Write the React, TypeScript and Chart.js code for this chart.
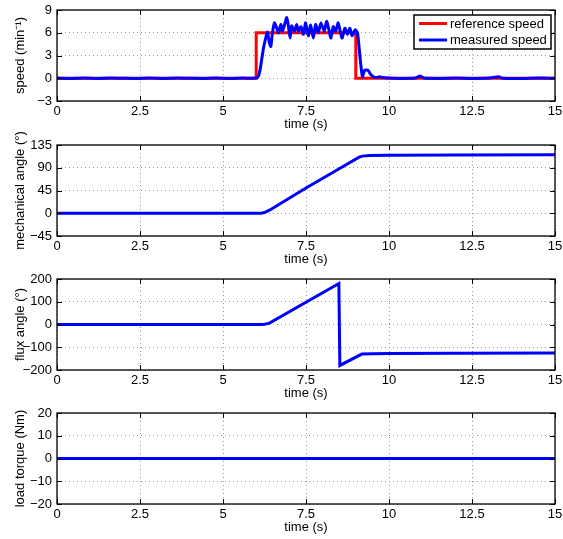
import React, { useEffect, useRef } from 'react';
import { Chart, registerables } from 'chart.js';

Chart.register(...registerables);

// ---- data ----
const timeMin = 0;
const timeMax = 15;
const timeStep = 2.5;

const refSpeedT = [0, 6, 6, 9, 9, 15];
const refSpeedV = [0, 0, 6, 6, 0, 0];

const measSpeedT = [
  0, 0.4, 0.8, 1.2, 1.6, 2.0, 2.4, 2.8, 3.2, 3.6, 4.0, 4.4, 4.8, 5.2, 5.6, 6.0,
  6.07, 6.12, 6.17, 6.22, 6.27, 6.34, 6.39, 6.44, 6.49, 6.55, 6.62, 6.67, 6.74, 6.79,
  6.87, 6.92, 6.97, 7.02, 7.07, 7.15, 7.22, 7.27, 7.35, 7.42, 7.49, 7.57, 7.64, 7.72,
  7.79, 7.87, 7.95, 8.05, 8.12, 8.19, 8.25, 8.32, 8.39, 8.47, 8.54, 8.59, 8.67, 8.75,
  8.82, 8.89, 8.98, 9.05, 9.1, 9.15, 9.2, 9.26, 9.33, 9.38, 9.43, 9.53, 9.62, 9.72,
  9.8, 10.0, 10.4, 10.8, 10.93, 11.05, 11.5, 12.0, 12.5, 13.0, 13.3, 13.42, 14.0, 14.5, 15.0,
];
const measSpeedV = [
  0.02, -0.03, 0.03, -0.02, 0.04, 0.0, -0.03, 0.02, -0.04, 0.03, 0.0, -0.02, 0.03, -0.03, 0.02, 0.02,
  0.3, 1.2, 2.6, 4.0, 5.0, 6.1, 4.8, 4.2, 6.0, 7.3, 6.6, 6.0, 7.1, 6.2,
  7.3, 8.0, 6.9, 5.3, 6.9, 6.2, 7.1, 6.2, 6.8, 5.8, 7.3, 5.6, 7.0, 5.3,
  7.1, 6.0, 7.3, 6.2, 7.5, 6.4, 5.3, 6.8, 6.2, 7.3, 6.0, 5.3, 6.6, 5.8,
  6.6, 5.6, 6.4, 6.0, 4.0, 1.8, 0.2, 1.0, 1.1, 1.0, 0.6, 0.2, 0.1, 0.2,
  0.1, 0.03, -0.03, 0.02, 0.3, 0.02, -0.03, 0.03, -0.02, 0.02, 0.2, 0.0, -0.03, 0.02, 0.0,
];

const mechT = [0, 6.15, 6.25, 6.4, 7.5, 8.5, 9.1, 9.2, 9.4, 10, 12, 15];
const mechV = [0, 0, 1.5, 6, 50, 88, 111, 113, 114, 114.5, 115, 115.5];

const fluxT = [0, 6.15, 6.25, 6.4, 8.49, 8.52, 9.18, 9.5, 10, 12, 15];
const fluxV = [0, 0, 1.5, 6, 180, -180, -130, -129, -128, -126.5, -125];

const torqueT = [0, 15];
const torqueV = [0, 0];

const speedTicks = { min: -3, max: 9, step: 3 };
const mechTicks = { min: -45, max: 135, step: 45 };
const fluxTicks = { min: -200, max: 200, step: 100 };
const torqueTicks = { min: -20, max: 20, step: 10 };

const RED = '#ff0000';
const BLUE = '#0000ff';
const FONT = "'Liberation Sans', Arial, Helvetica, sans-serif";

const pts = (t: number[], v: number[]) => t.map((x, i) => ({ x, y: v[i] }));

const fmt = (v: number) => (v < 0 ? '\u2212' + String(-v) : String(v));

const framePlugin = {
  id: 'frame',
  afterDraw(chart: any, _args: any, opts: any) {
    const { ctx, chartArea } = chart;
    const { left, right, top, bottom } = chartArea;
    ctx.save();
    ctx.strokeStyle = '#000';
    ctx.lineWidth = 1;
    ctx.setLineDash([]);
    // inward ticks
    const tl = 5;
    const xs = chart.scales.x;
    const ys = chart.scales.y;
    ctx.beginPath();
    xs.ticks.forEach((t: any) => {
      const px = Math.round(xs.getPixelForValue(t.value)) + 0.5;
      ctx.moveTo(px, bottom);
      ctx.lineTo(px, bottom - tl);
      ctx.moveTo(px, top);
      ctx.lineTo(px, top + tl);
    });
    ys.ticks.forEach((t: any) => {
      const py = Math.round(ys.getPixelForValue(t.value)) + 0.5;
      ctx.moveTo(left, py);
      ctx.lineTo(left + tl, py);
      ctx.moveTo(right, py);
      ctx.lineTo(right - tl, py);
    });
    ctx.stroke();
    ctx.lineWidth = 1.3;
    ctx.strokeRect(left, top, right - left, bottom - top);

    if (opts && opts.legend) {
      const ds = chart.data.datasets;
      const bx = right - 141;
      const by = top + 5;
      const bw = 137;
      const bh = 34;
      ctx.fillStyle = '#fff';
      ctx.fillRect(bx, by, bw, bh);
      ctx.lineWidth = 1.5;
      ctx.strokeStyle = '#000';
      ctx.strokeRect(bx, by, bw, bh);
      ctx.font = `13px ${FONT}`;
      ctx.textBaseline = 'middle';
      ctx.textAlign = 'left';
      ds.forEach((d: any, i: number) => {
        const y = by + 8.5 + i * 16.5;
        ctx.strokeStyle = d.borderColor;
        ctx.lineWidth = 3;
        ctx.beginPath();
        ctx.moveTo(bx + 5, y);
        ctx.lineTo(bx + 33, y);
        ctx.stroke();
        ctx.fillStyle = '#000';
        ctx.fillText(d.label, bx + 36, y + 0.5);
      });
    }
    ctx.restore();
  },
};

type PanelProps = {
  top: number;
  yTitle: string;
  yRange: { min: number; max: number; step: number };
  datasets: any[];
  legend?: boolean;
};

const CH = 160;
const PAD_TOP = 20;
const PLOT_H = 91;
const XAXIS_H = 31;

function Panel({ top, yTitle, yRange, datasets, legend }: PanelProps) {
  const ref = useRef<HTMLCanvasElement | null>(null);
  useEffect(() => {
    if (!ref.current) return;
    const chart = new Chart(ref.current, {
      type: 'line',
      data: { datasets },
      plugins: [framePlugin],
      options: {
        responsive: false,
        animation: false,
        devicePixelRatio: 1,
        layout: {
          padding: { top: PAD_TOP, left: 0, right: 8, bottom: CH - PAD_TOP - PLOT_H - XAXIS_H },
        },
        elements: { point: { radius: 0 } },
        plugins: {
          legend: { display: false },
          tooltip: { enabled: false },
          frame: { legend: !!legend },
        } as any,
        scales: {
          x: {
            type: 'linear',
            min: timeMin,
            max: timeMax,
            ticks: {
              stepSize: timeStep,
              color: '#000',
              padding: 3,
              maxRotation: 0,
              font: { family: FONT, size: 13 },
              callback: (v: any) => fmt(Number(v)),
            },
            grid: { color: '#9a9a9a', lineWidth: 1, drawTicks: false },
            border: { display: false, dash: [1, 3] },
            title: {
              display: true,
              text: 'time (s)',
              color: '#000',
              padding: 0,
              font: { family: FONT, size: 13 },
            },
            afterFit: (s: any) => {
              s.height = XAXIS_H;
              s.paddingLeft = 0;
              s.paddingRight = 0;
            },
          },
          y: {
            type: 'linear',
            min: yRange.min,
            max: yRange.max,
            ticks: {
              stepSize: yRange.step,
              color: '#000',
              padding: 5,
              font: { family: FONT, size: 13 },
              callback: (v: any) => fmt(Number(v)),
            },
            grid: { color: '#9a9a9a', lineWidth: 1, drawTicks: false },
            border: { display: false, dash: [1, 3] },
            title: {
              display: true,
              text: yTitle,
              color: '#000',
              padding: { top: 13, bottom: 0 },
              font: { family: FONT, size: 13 },
            },
            afterFit: (s: any) => {
              s.width = 57;
              s.paddingTop = 0;
              s.paddingBottom = 0;
            },
          },
        },
      } as any,
    });
    return () => chart.destroy();
  }, []);
  return (
    <canvas
      ref={ref}
      width={563}
      height={CH}
      style={{ position: 'absolute', left: 0, top: top - PAD_TOP, width: 563, height: CH }}
    />
  );
}

const lineDs = (label: string, t: number[], v: number[], color: string, order: number, tension = 0) => ({
  label,
  data: pts(t, v),
  borderColor: color,
  backgroundColor: color,
  borderWidth: 3,
  pointRadius: 0,
  tension,
  order,
  fill: false,
});

export default function App() {
  return (
    <div
      style={{
        position: 'fixed',
        left: 0,
        top: 0,
        width: 563,
        height: 539,
        background: '#fff',
        overflow: 'hidden',
      }}
    >
      <Panel
        top={10}
        yTitle={'speed (min\u207B\u00B9)'}
        yRange={speedTicks}
        legend
        datasets={[
          lineDs('reference speed', refSpeedT, refSpeedV, RED, 1),
          lineDs('measured speed', measSpeedT, measSpeedV, BLUE, 0, 0.2),
        ]}
      />
      <Panel
        top={145}
        yTitle={'mechanical angle (\u00B0)'}
        yRange={mechTicks}
        datasets={[lineDs('mechanical angle', mechT, mechV, BLUE, 0)]}
      />
      <Panel
        top={279}
        yTitle={'flux angle (\u00B0)'}
        yRange={fluxTicks}
        datasets={[lineDs('flux angle', fluxT, fluxV, BLUE, 0)]}
      />
      <Panel
        top={413}
        yTitle={'load torque (Nm)'}
        yRange={torqueTicks}
        datasets={[lineDs('load torque', torqueT, torqueV, BLUE, 0)]}
      />
    </div>
  );
}
